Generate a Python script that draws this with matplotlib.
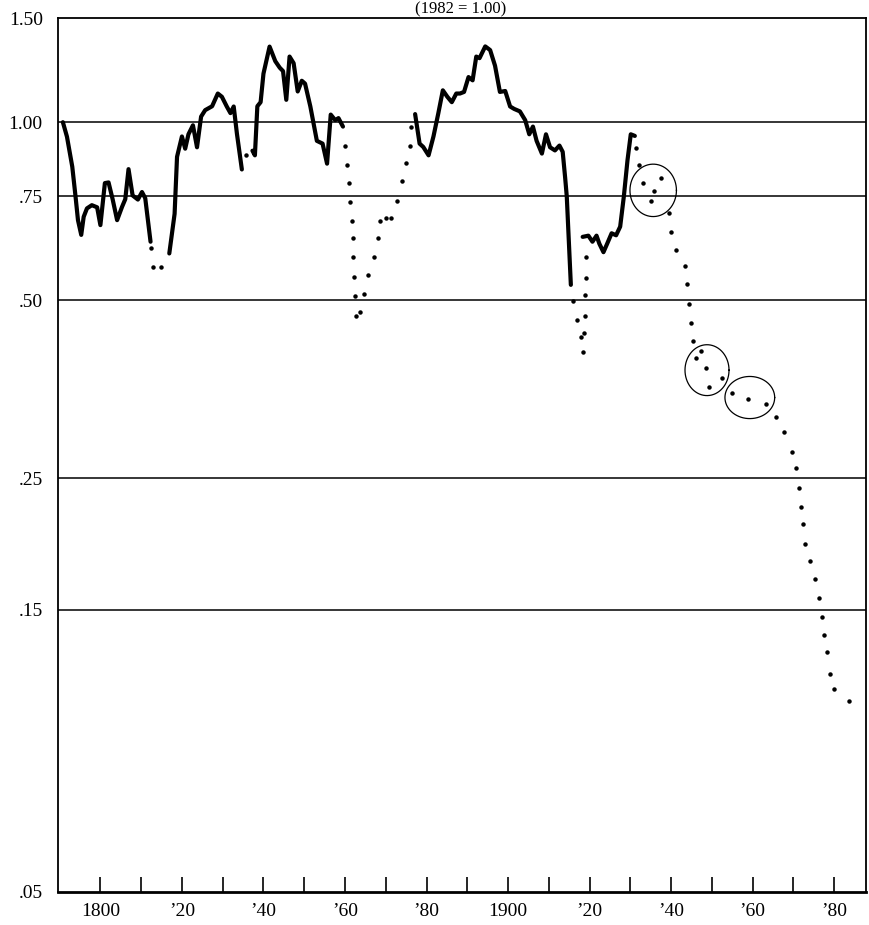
"""Relative price index, 1790-1985 (1982 = 1.00), log scale.

Solid runs and dotted runs are read off the scanned chart; three
groups of points in the later dotted run are ringed by hand-drawn ovals.
"""
import numpy as np
import matplotlib
matplotlib.use("Agg")
import matplotlib.pyplot as plt

plt.rcParams["font.family"] = ["Liberation Serif", "DejaVu Serif"]

# --- solid runs -----------------------------------------------------------
S1_YEARS = [1790.8, 1791.8, 1793.1, 1793.9, 1794.5, 1795.3, 1795.9, 1796.7,
            1797.9, 1799.2, 1800.0, 1801.1, 1802.0, 1803.0, 1804.1, 1805.3,
            1806.1, 1806.9, 1807.9, 1809.2, 1810.2, 1811.0, 1812.3]
S1_VALS = [1.00, 0.945, 0.841, 0.749, 0.683, 0.645, 0.692, 0.715,
           0.724, 0.718, 0.670, 0.789, 0.791, 0.741, 0.683, 0.719,
           0.741, 0.833, 0.752, 0.740, 0.762, 0.744, 0.628]

S2_YEARS = [1816.9, 1818.2, 1818.8, 1820.0, 1820.8, 1821.6, 1822.7, 1823.7,
            1824.7, 1825.7, 1827.4, 1828.8, 1829.8, 1831.0, 1831.9, 1832.7,
            1833.5, 1834.7]
S2_VALS = [0.600, 0.700, 0.874, 0.946, 0.902, 0.954, 0.988, 0.907,
           1.022, 1.048, 1.064, 1.118, 1.104, 1.063, 1.036, 1.063,
           0.955, 0.832]

S3_YEARS = [1837.3, 1837.9, 1838.5, 1839.3, 1840.0, 1841.5, 1842.9, 1844.0,
            1844.8, 1845.6, 1846.4, 1847.4, 1848.4, 1849.4, 1850.2, 1851.5,
            1853.1, 1854.5, 1855.6, 1856.5, 1857.6, 1858.4, 1859.5]
S3_VALS = [0.895, 0.879, 1.064, 1.081, 1.208, 1.342, 1.268, 1.236,
           1.220, 1.091, 1.291, 1.258, 1.127, 1.175, 1.162, 1.063,
           0.930, 0.920, 0.851, 1.030, 1.008, 1.016, 0.983]

S4_YEARS = [1877.2, 1878.3, 1879.2, 1880.5, 1881.7, 1882.9, 1884.0, 1885.1,
            1886.2, 1887.3, 1888.2, 1889.2, 1890.3, 1891.3, 1892.2, 1893.0,
            1894.4, 1895.6, 1896.8, 1898.0, 1899.3, 1900.5, 1901.5, 1902.9,
            1904.2, 1905.2, 1906.1, 1907.0, 1908.3, 1909.3, 1910.3, 1911.5,
            1912.6, 1913.4, 1914.0, 1914.4, 1915.4]
S4_VALS = [1.032, 0.920, 0.908, 0.879, 0.946, 1.036, 1.132, 1.104,
           1.081, 1.118, 1.118, 1.125, 1.192, 1.177, 1.291, 1.283,
           1.343, 1.324, 1.246, 1.125, 1.129, 1.063, 1.053, 1.043,
           1.008, 0.954, 0.983, 0.930, 0.885, 0.954, 0.907, 0.896,
           0.913, 0.891, 0.806, 0.749, 0.531]

S5_YEARS = [1918.3, 1919.7, 1920.7, 1921.7, 1922.4, 1923.4, 1924.3, 1925.4,
            1926.5, 1927.5, 1928.4, 1929.3, 1930.1, 1931.1]
S5_VALS = [0.640, 0.643, 0.628, 0.643, 0.623, 0.603, 0.623, 0.649,
           0.644, 0.666, 0.749, 0.863, 0.954, 0.948]

# --- dotted runs ----------------------------------------------------------
D1_YEARS = [1812.3, 1813.0, 1814.8]
D1_VALS = [0.612, 0.569, 0.569]

D2_YEARS = [1835.7]
D2_VALS = [0.879]

D3_YEARS = [1860.0, 1860.6, 1860.9, 1861.3, 1861.6, 1861.9, 1862.0, 1862.3,
            1862.5, 1862.7, 1863.6, 1864.7, 1865.6, 1867.2, 1868.1, 1868.7,
            1870.0, 1871.4, 1872.7, 1873.9, 1875.0, 1875.9, 1876.2]
D3_VALS = [0.910, 0.847, 0.788, 0.733, 0.681, 0.636, 0.592, 0.548,
           0.508, 0.471, 0.478, 0.512, 0.552, 0.591, 0.637, 0.682,
           0.690, 0.690, 0.737, 0.796, 0.852, 0.912, 0.982]

D4_YEARS = [1916.0, 1917.0, 1917.8, 1918.5, 1918.6, 1918.8, 1918.9, 1919.0,
            1919.2]
D4_VALS = [0.498, 0.464, 0.433, 0.409, 0.440, 0.471, 0.510, 0.546, 0.591]

D5_YEARS = [1931.5, 1932.2, 1933.0, 1935.0, 1935.9, 1937.6, 1939.5, 1940.0,
            1941.2, 1943.5, 1944.0, 1944.4, 1944.9, 1945.3, 1946.1, 1947.3,
            1948.6, 1949.3, 1952.5, 1955.0, 1958.9, 1963.2, 1965.8, 1967.8,
            1969.7, 1970.7, 1971.4, 1971.8, 1972.3, 1972.9, 1974.0, 1975.2,
            1976.2, 1976.9, 1977.5, 1978.2, 1978.9, 1979.9, 1983.6]
D5_VALS = [0.906, 0.845, 0.788, 0.736, 0.764, 0.806, 0.701, 0.652,
           0.607, 0.572, 0.532, 0.493, 0.458, 0.427, 0.400, 0.410,
           0.384, 0.357, 0.370, 0.348, 0.340, 0.334, 0.318, 0.299,
           0.277, 0.260, 0.241, 0.224, 0.209, 0.194, 0.181, 0.169,
           0.157, 0.146, 0.136, 0.127, 0.117, 0.110, 0.105]

# --- hand-drawn ovals (centre year, centre value, half-width in years,
#     half-height in natural-log units) --------------------------------------
OVAL_YEARS = [1935.6, 1948.8, 1959.3]
OVAL_VALS = [0.767, 0.381, 0.3425]
OVAL_RX = [5.7, 5.4, 6.1]
OVAL_RY = [0.102, 0.099, 0.082]

Y_TICKS = [0.05, 0.15, 0.25, 0.50, 0.75, 1.00, 1.50]
Y_LABELS = [".05", ".15", ".25", ".50", ".75", "1.00", "1.50"]
GRID_VALS = [0.15, 0.25, 0.50, 0.75, 1.00]
X_TICKS = list(range(1800, 1990, 10))
X_LABELS = ["1800", "", "\u201920", "", "\u201940", "", "\u201960", "",
            "\u201980", "", "1900", "", "\u201920", "", "\u201940", "",
            "\u201960", "", "\u201980"]

fig = plt.figure(figsize=(8.7, 9.25), dpi=100)
ax = fig.add_axes([58 / 870, 1 - 892 / 925, 808 / 870, 874 / 925])
ax.set_yscale("log")
ax.set_xlim(1789.6, 1987.8)
ax.set_ylim(0.05, 1.50)

for v in GRID_VALS:
    ax.axhline(v, color="black", lw=1.1, zorder=1)

for xs, ys in [(S1_YEARS, S1_VALS), (S2_YEARS, S2_VALS), (S3_YEARS, S3_VALS),
               (S4_YEARS, S4_VALS), (S5_YEARS, S5_VALS)]:
    ax.plot(xs, ys, color="black", lw=3.0, solid_joinstyle="round",
            solid_capstyle="round", zorder=3)

for xs, ys in [(D1_YEARS, D1_VALS), (D2_YEARS, D2_VALS), (D3_YEARS, D3_VALS),
               (D4_YEARS, D4_VALS), (D5_YEARS, D5_VALS)]:
    ax.plot(xs, ys, ls="none", marker="o", ms=2.2, color="black", zorder=3)

t = np.linspace(0, 2 * np.pi, 200)
for cx, cy, rx, ry in zip(OVAL_YEARS, OVAL_VALS, OVAL_RX, OVAL_RY):
    ax.plot(cx + rx * np.cos(t), cy * np.exp(ry * np.sin(t)),
            color="black", lw=0.9, zorder=2)

ax.set_yticks(Y_TICKS)
ax.set_yticklabels(Y_LABELS)
ax.yaxis.set_minor_locator(matplotlib.ticker.NullLocator())
ax.tick_params(axis="y", length=0, pad=11, labelsize=14)
ax.set_xticks(X_TICKS)
ax.set_xticklabels(X_LABELS)
ax.tick_params(axis="x", direction="in", length=11, width=1.2, pad=8,
               labelsize=14)
for s in ax.spines.values():
    s.set_linewidth(1.3)
ax.spines["bottom"].set_linewidth(2.0)

# title in the narrow strip above the frame
fig.text(0.529, 1 - 13 / 925, "(1982 = 1.00)", ha="center", va="baseline",
         fontsize=12)

fig.savefig("out.png", dpi=100)
